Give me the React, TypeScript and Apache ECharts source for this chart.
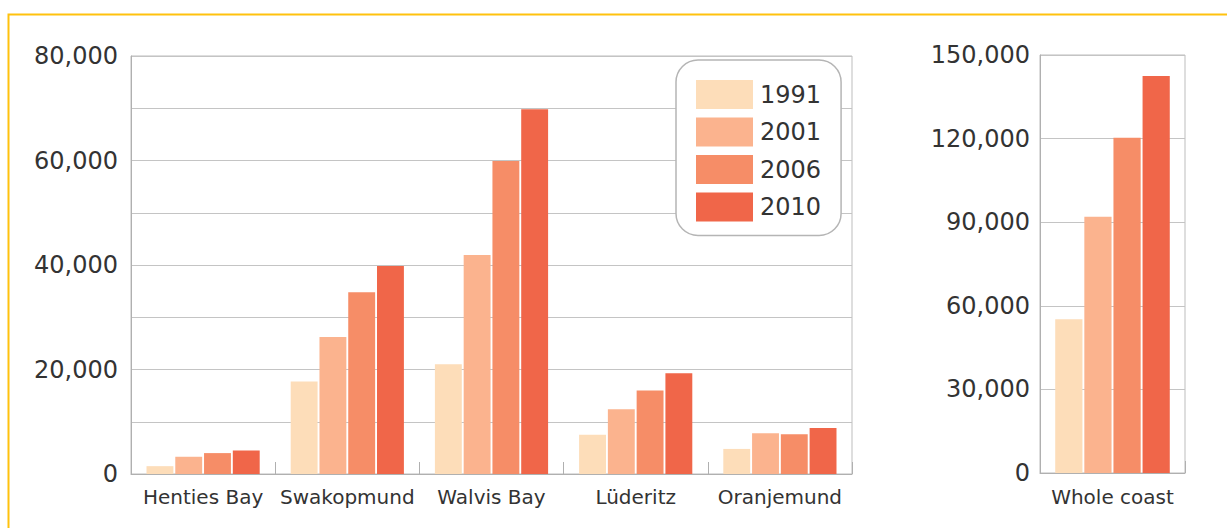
import React, { useEffect, useRef } from "react";
import * as echarts from "echarts";

const towns = ["Henties Bay", "Swakopmund", "Walvis Bay", "Lüderitz", "Oranjemund"];
const coast = ["Whole coast"];
const years = ["1991", "2001", "2006", "2010"];
const colors = ["#FDDDB9", "#FBB38E", "#F68D67", "#F06649"];

const towns1991 = [1500, 17700, 21000, 7500, 4800];
const towns2001 = [3300, 26200, 41900, 12400, 7800];
const towns2006 = [4000, 34800, 59900, 16000, 7600];
const towns2010 = [4500, 39800, 69800, 19300, 8800];

const coast1991 = [55200];
const coast2001 = [92000];
const coast2006 = [120300];
const coast2010 = [142500];

const townSeries = [towns1991, towns2001, towns2006, towns2010];
const coastSeries = [coast1991, coast2001, coast2006, coast2010];

const FONT = "DejaVu Sans";
const fmt = (v: number) => v.toLocaleString("en-US");

export default function App() {
  const ref = useRef<HTMLDivElement>(null);
  useEffect(() => {
    if (!ref.current) return;
    const chart = echarts.init(ref.current, undefined, { renderer: "svg" });
    const gridBorder = "#bdbdbd";
    const yAxisCommon = {
      type: "value" as const,
      min: 0,
      axisLine: { show: true, lineStyle: { color: "#b0b0b0", width: 1 } },
      axisTick: { show: false },
      splitLine: { show: true, lineStyle: { color: "#c4c4c4", width: 1.2 } },
    };
    const xAxisCommon = {
      type: "category" as const,
      axisLine: { show: true, lineStyle: { color: "#b0b0b0", width: 1 } },
      axisTick: { show: true, inside: true, length: 12, interval: 0, lineStyle: { color: "#b0b0b0" } },
      axisLabel: { color: "#333", fontFamily: FONT, fontSize: 20, margin: 13, interval: 0 },
    };
    const series: any[] = [];
    years.forEach((y, i) => {
      series.push({
        name: y,
        type: "bar",
        xAxisIndex: 0,
        yAxisIndex: 0,
        data: townSeries[i],
        itemStyle: { color: colors[i] },
        barGap: "7%",
        barCategoryGap: "21.5%",
      });
    });
    years.forEach((y, i) => {
      series.push({
        name: y,
        type: "bar",
        xAxisIndex: 1,
        yAxisIndex: 1,
        data: coastSeries[i],
        itemStyle: { color: colors[i] },
        barGap: "7%",
        barCategoryGap: "21%",
      });
    });
    chart.setOption({
      animation: false,
      backgroundColor: "#ffffff",
      grid: [
        { left: 131, top: 56, width: 721, height: 418, show: true, borderColor: gridBorder, borderWidth: 1 },
        { left: 1040, top: 55, width: 145, height: 418, show: true, borderColor: gridBorder, borderWidth: 1 },
      ],
      xAxis: [
        { ...xAxisCommon, gridIndex: 0, data: towns },
        { ...xAxisCommon, gridIndex: 1, data: coast, axisLabel: { ...xAxisCommon.axisLabel, margin: 14 } },
      ],
      yAxis: [
        {
          ...yAxisCommon,
          gridIndex: 0,
          max: 80000,
          interval: 10000,
          axisLabel: {
            color: "#333",
            fontFamily: FONT,
            fontSize: 24,
            margin: 13,
            formatter: (v: number) => (v % 20000 === 0 ? fmt(v) : ""),
          },
        },
        {
          ...yAxisCommon,
          gridIndex: 1,
          max: 150000,
          interval: 30000,
          axisLabel: {
            color: "#333",
            fontFamily: FONT,
            fontSize: 24,
            margin: 10,
            formatter: (v: number) => fmt(v),
          },
        },
      ],
      legend: {
        data: years,
        orient: "vertical",
        left: 676,
        top: 60,
        itemWidth: 57,
        itemHeight: 29,
        itemGap: 8.5,
        icon: "rect",
        padding: [20, 20, 14, 20],
        borderColor: "#b5b5b5",
        borderWidth: 1.5,
        borderRadius: 22,
        backgroundColor: "#ffffff",
        textStyle: { color: "#333", fontFamily: FONT, fontSize: 24, padding: [3, 0, 0, 2] },
      },
      graphic: [
        {
          type: "rect",
          left: 6,
          top: 12,
          shape: { x: 0, y: 0, width: 1300, height: 600 },
          style: { fill: "none", stroke: "#FFC20E", lineWidth: 2 },
          silent: true,
        },
      ],
      series,
    });
    return () => chart.dispose();
  }, []);
  return (
    <div
      ref={ref}
      style={{ position: "fixed", left: 0, top: 0, width: 1227, height: 528, background: "#fff" }}
    />
  );
}
